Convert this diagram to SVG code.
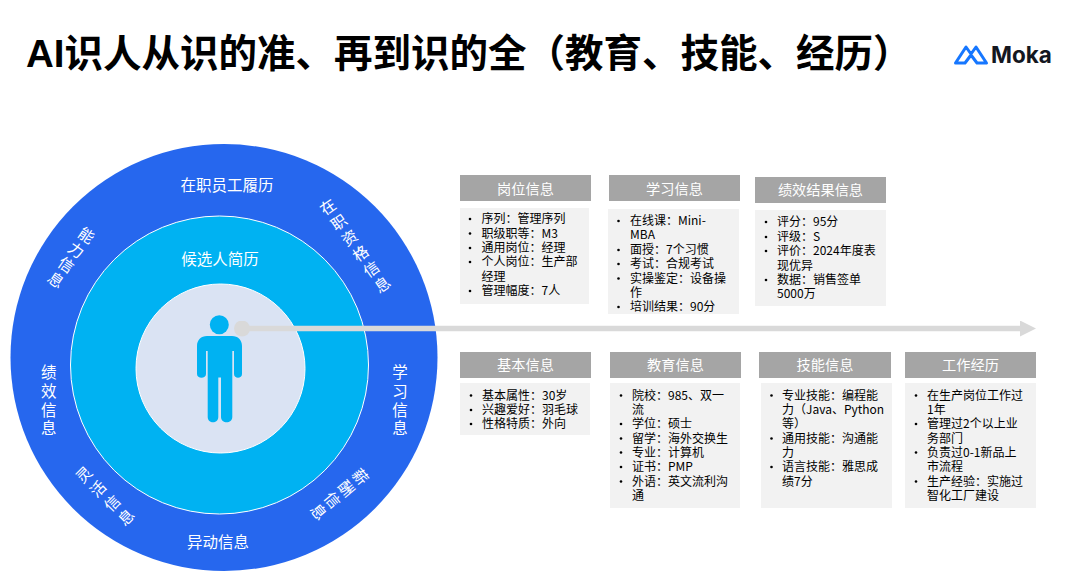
<svg xmlns="http://www.w3.org/2000/svg" width="1087" height="585" viewBox="0 0 1087 585">
<style>
text{font-family:"Liberation Sans","Noto Sans CJK SC",sans-serif}
.cjk{font-family:"Noto Sans CJK SC",sans-serif}
.title{font-size:38.5px;font-weight:700;fill:#000}
.ring{font-size:15.5px;fill:#fff;text-anchor:middle}
.vert{writing-mode:vertical-rl}
.hd{fill:#a5a5a5}
.bd{fill:#f2f2f2}
.ht{font-size:14.2px;fill:#fff;text-anchor:middle}
.li{font-size:12px;fill:#000}
.b{fill:#000}
</style>
<defs>
<marker id="head" markerUnits="userSpaceOnUse" markerWidth="16" markerHeight="16" refX="0" refY="8" orient="auto"><path d="M0 0L16 8L0 16Z" fill="#d9d9d9"/></marker>
<marker id="dot" markerUnits="userSpaceOnUse" markerWidth="16" markerHeight="16" refX="8" refY="8"><circle cx="8" cy="8" r="8" fill="#d9d9d9"/></marker>
<circle id="bul" r="1.3" class="b"/>
</defs>
<rect width="1087" height="585" fill="#fff"/>
<text id="title" class="title" x="26" y="66.5">AI<tspan class="cjk">识人从识的准、再到识的全（教育、技能、经历）</tspan></text>
<g id="logo">
<path d="M955.5 63L966 47L971 54L976 47L986.5 63H977L971 55L965 63Z" fill="none" stroke="#1677ff" stroke-width="3" stroke-linejoin="round"/>
<text x="991" y="63" style="font-family:Inter,sans-serif;font-size:22.5px;font-weight:700;fill:#14171f">Moka</text>
</g>
<g id="ring-outer">
<circle cx="224" cy="357.5" r="213.5" fill="#2667ee"/>
<text class="ring cjk" x="227" y="191">在职员工履历</text>
<text class="ring cjk" x="218" y="548">异动信息</text>
<text class="ring cjk vert" x="356" y="247" transform="rotate(-35 356 247)" style="letter-spacing:3.5px">在职资格信息</text>
<text class="ring cjk vert" x="70.5" y="258.5" transform="rotate(34.6 70.5 258.5)" style="letter-spacing:2.5px">能力信息</text>
<text class="ring cjk vert" x="338.5" y="495" transform="rotate(50 338.5 495)" style="letter-spacing:2.7px">薪酬信息</text>
<text class="ring cjk vert" x="106.5" y="497.5" transform="rotate(-45 106.5 497.5)" style="letter-spacing:4.5px">灵活信息</text>
<text class="ring cjk vert" x="48.7" y="402" style="letter-spacing:3.2px">绩效信息</text>
<text class="ring cjk vert" x="400" y="402" style="letter-spacing:3.2px">学习信息</text>
</g>
<g id="ring-middle">
<circle cx="219.5" cy="365" r="149" fill="#00b2f2" stroke="#fff" stroke-width="1"/>
<text class="ring cjk" x="220" y="265">候选人简历</text>
</g>
<g id="ring-inner">
<circle cx="220.5" cy="368.5" r="84.5" fill="#dae3f3" stroke="#fff" stroke-width="1"/>
</g>
<g id="person" fill="#00b2f2">
<circle cx="219.3" cy="324.7" r="9.5"/>
<path d="M207 336H232C238 336 242 340 242 346V374C242 379 234 379 234 374V351H232.3V417C232.3 424 221 424 221 417V377.5H218.3V417C218.3 424 207.7 424 207.7 417V351H206V374C206 379 197 379 197 374V346C197 340 201 336 207 336Z"/>
</g>
<g id="connectors">
<line x1="242" y1="328.5" x2="1020" y2="328.5" stroke="#d9d9d9" stroke-width="5.5" marker-start="url(#dot)" marker-end="url(#head)"/>
</g>
<g id="card-post">
<rect class="hd" x="460" y="175" width="131" height="26"/>
<text class="ht cjk" x="525.5" y="194">岗位信息</text>
<rect class="bd" x="460" y="208" width="129" height="96"/>
<text class="li cjk"><tspan x="481.5" y="223">序列：管理序列</tspan><tspan x="481.5" y="237.5">职级职等：M3</tspan><tspan x="481.5" y="252">通用岗位：经理</tspan><tspan x="481.5" y="266">个人岗位：生产部</tspan><tspan x="481.5" y="280.5">经理</tspan><tspan x="481.5" y="295">管理幅度：7人</tspan></text>
<use href="#bul" x="470" y="219"/><use href="#bul" x="470" y="233.5"/><use href="#bul" x="470" y="248"/><use href="#bul" x="470" y="262"/><use href="#bul" x="470" y="291"/>
</g>
<g id="card-study">
<rect class="hd" x="609" y="175" width="131" height="26"/>
<text class="ht cjk" x="674.5" y="194">学习信息</text>
<rect class="bd" x="608" y="209" width="131" height="105"/>
<text class="li cjk"><tspan x="630" y="225">在线课：Mini-</tspan><tspan x="630" y="239">MBA</tspan><tspan x="630" y="254">面授：7个习惯</tspan><tspan x="630" y="268">考试：合规考试</tspan><tspan x="630" y="282.5">实操鉴定：设备操</tspan><tspan x="630" y="297">作</tspan><tspan x="630" y="311">培训结果：90分</tspan></text>
<use href="#bul" x="618.5" y="221"/><use href="#bul" x="618.5" y="250"/><use href="#bul" x="618.5" y="264"/><use href="#bul" x="618.5" y="278.5"/><use href="#bul" x="618.5" y="307"/>
</g>
<g id="card-perf">
<rect class="hd" x="755" y="177" width="131" height="26"/>
<text class="ht cjk" x="820.5" y="195">绩效结果信息</text>
<rect class="bd" x="755" y="210" width="131" height="96"/>
<text class="li cjk"><tspan x="777" y="226">评分：95分</tspan><tspan x="777" y="241">评级：S</tspan><tspan x="777" y="255">评价：2024年度表</tspan><tspan x="777" y="269.5">现优异</tspan><tspan x="777" y="284">数据：销售签单</tspan><tspan x="777" y="298">5000万</tspan></text>
<use href="#bul" x="766" y="222"/><use href="#bul" x="766" y="237"/><use href="#bul" x="766" y="251"/><use href="#bul" x="766" y="280"/>
</g>
<g id="card-basic">
<rect class="hd" x="460" y="352" width="131" height="26"/>
<text class="ht cjk" x="525.5" y="370">基本信息</text>
<rect class="bd" x="460" y="383" width="130" height="52"/>
<text class="li cjk"><tspan x="482" y="399.5">基本属性：30岁</tspan><tspan x="482" y="414">兴趣爱好：羽毛球</tspan><tspan x="482" y="428">性格特质：外向</tspan></text>
<use href="#bul" x="471" y="395.5"/><use href="#bul" x="471" y="410"/><use href="#bul" x="471" y="424"/>
</g>
<g id="card-edu">
<rect class="hd" x="610" y="352" width="131" height="26"/>
<text class="ht cjk" x="675.5" y="370">教育信息</text>
<rect class="bd" x="610" y="383" width="130" height="125"/>
<text class="li cjk"><tspan x="632" y="399.5">院校：985、双一</tspan><tspan x="632" y="414">流</tspan><tspan x="632" y="428">学位：硕士</tspan><tspan x="632" y="442.5">留学：海外交换生</tspan><tspan x="632" y="456.5">专业：计算机</tspan><tspan x="632" y="471">证书：PMP</tspan><tspan x="632" y="485.5">外语：英文流利沟</tspan><tspan x="632" y="500">通</tspan></text>
<use href="#bul" x="621" y="395.5"/><use href="#bul" x="621" y="424"/><use href="#bul" x="621" y="438.5"/><use href="#bul" x="621" y="452.5"/><use href="#bul" x="621" y="467"/><use href="#bul" x="621" y="481.5"/>
</g>
<g id="card-skill">
<rect class="hd" x="759" y="352" width="132" height="26"/>
<text class="ht cjk" x="825" y="370">技能信息</text>
<rect class="bd" x="761" y="383" width="131" height="125"/>
<text class="li cjk"><tspan x="782" y="399.5">专业技能：编程能</tspan><tspan x="782" y="414">力（Java、Python</tspan><tspan x="782" y="428">等）</tspan><tspan x="782" y="442.5">通用技能：沟通能</tspan><tspan x="782" y="456.5">力</tspan><tspan x="782" y="471">语言技能：雅思成</tspan><tspan x="782" y="485.5">绩7分</tspan></text>
<use href="#bul" x="771.5" y="395.5"/><use href="#bul" x="771.5" y="438.5"/><use href="#bul" x="771.5" y="467"/>
</g>
<g id="card-work">
<rect class="hd" x="905" y="352" width="131" height="26"/>
<text class="ht cjk" x="970.5" y="370">工作经历</text>
<rect class="bd" x="905" y="383" width="131" height="125"/>
<text class="li cjk"><tspan x="927" y="399.5">在生产岗位工作过</tspan><tspan x="927" y="414">1年</tspan><tspan x="927" y="428">管理过2个以上业</tspan><tspan x="927" y="442.5">务部门</tspan><tspan x="927" y="456.5">负责过0-1新品上</tspan><tspan x="927" y="471">市流程</tspan><tspan x="927" y="485.5">生产经验：实施过</tspan><tspan x="927" y="500">智化工厂建设</tspan></text>
<use href="#bul" x="916" y="395.5"/><use href="#bul" x="916" y="424"/><use href="#bul" x="916" y="452.5"/><use href="#bul" x="916" y="481.5"/>
</g>
</svg>
